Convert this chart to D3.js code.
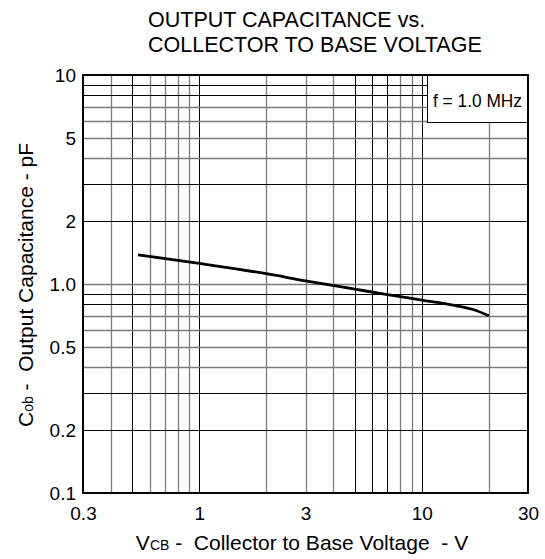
<!DOCTYPE html>
<html>
<head>
<meta charset="utf-8">
<script src="https://cdn.jsdelivr.net/npm/d3@7"></script>
<style>
  body { margin: 0; background: #fff; }
  text { font-family: "Liberation Sans", Arial, sans-serif; fill: #000; white-space: pre; }
</style>
</head>
<body>
<svg id="chart" width="545" height="559"></svg>
<script>
// curve
const vcb = [0.53, 1, 2, 3, 5, 7, 10, 14, 17, 20];
const cob = [1.38, 1.255, 1.12, 1.035, 0.945, 0.89, 0.838, 0.79, 0.755, 0.705];

const xTicks = [0.3, 1, 3, 10, 30];
const xTickLabels = ['0.3', '1', '3', '10', '30'];
const yTicks = [0.1, 0.2, 0.5, 1, 2, 5, 10];
const yTickLabels = ['0.1', '0.2', '0.5', '1.0', '2', '5', '10'];

const xGrid = [0.4, 0.5, 0.6, 0.7, 0.8, 0.9, 1, 2, 3, 4, 5, 6, 7, 8, 9, 10, 20];
const xGridDark = [0.5, 1, 5, 6, 7, 10];
const yGrid = [0.2, 0.3, 0.4, 0.5, 0.6, 0.7, 0.8, 0.9, 1, 2, 3, 4, 5, 6, 7, 8, 9];
const yGridDark = [0.2, 0.3, 0.8, 0.9, 2, 3, 8, 9];

const svg = d3.select('#chart');
const plotLeft = 83, plotRight = 528, plotTop = 75, plotBottom = 493;

const x = d3.scaleLog().domain([0.3, 30]).range([plotLeft, plotRight]);
const y = d3.scaleLog().domain([0.1, 10]).range([plotBottom, plotTop]);

const px = v => Math.round(v) + 0.5;

// grid
svg.append('g')
    .selectAll('line')
    .data(xGrid)
    .enter()
    .append('line')
    .attr('x1', d => px(x(d)))
    .attr('x2', d => px(x(d)))
    .attr('y1', plotTop)
    .attr('y2', plotBottom)
    .attr('stroke', d => xGridDark.includes(d) ? '#000' : '#7a7a7a')
    .attr('stroke-width', d => xGridDark.includes(d) ? 1 : 1.3);

svg.append('g')
    .selectAll('line')
    .data(yGrid)
    .enter()
    .append('line')
    .attr('x1', plotLeft)
    .attr('x2', plotRight)
    .attr('y1', d => px(y(d)))
    .attr('y2', d => px(y(d)))
    .attr('stroke', d => yGridDark.includes(d) ? '#000' : '#7a7a7a')
    .attr('stroke-width', d => yGridDark.includes(d) ? 1 : 1.3);

// legend box
const boxLeft = 427, boxBottom = 122;
svg.append('rect')
    .attr('x', boxLeft + 0.5)
    .attr('y', plotTop)
    .attr('width', plotRight - boxLeft)
    .attr('height', boxBottom - plotTop + 0.5)
    .attr('fill', '#fff')
    .attr('stroke', '#000')
    .attr('stroke-width', 1);

svg.append('text')
    .attr('x', 433)
    .attr('y', 107)
    .attr('textLength', 89)
    .attr('lengthAdjust', 'spacingAndGlyphs')
    .style('font-size', '19px')
    .text('f = 1.0 MHz');

// curve
const line = d3.line()
    .x(d => x(d[0]))
    .y(d => y(d[1]))
    .curve(d3.curveMonotoneX);

svg.append('path')
    .datum(vcb.map((v, i) => [v, cob[i]]))
    .attr('d', line)
    .attr('fill', 'none')
    .attr('stroke', '#000')
    .attr('stroke-width', 2.8);

// frame
svg.append('rect')
    .attr('x', plotLeft)
    .attr('y', plotTop)
    .attr('width', plotRight - plotLeft)
    .attr('height', plotBottom - plotTop)
    .attr('fill', 'none')
    .attr('stroke', '#000')
    .attr('stroke-width', 2);

// axes
const xAxis = svg.append('g')
    .attr('transform', `translate(0,${plotBottom})`)
    .call(d3.axisBottom(x)
        .tickValues(xTicks)
        .tickFormat((d, i) => xTickLabels[i])
        .tickSize(0)
        .tickPadding(14));
xAxis.select('.domain').remove();
xAxis.selectAll('text')
    .style('font-size', '19px')
    .style('font-family', '"Liberation Sans", Arial, sans-serif');

const yAxis = svg.append('g')
    .attr('transform', `translate(${plotLeft},0)`)
    .call(d3.axisLeft(y)
        .tickValues(yTicks)
        .tickFormat((d, i) => yTickLabels[i])
        .tickSize(0)
        .tickPadding(7));
yAxis.select('.domain').remove();
yAxis.selectAll('text')
    .style('font-size', '19px')
    .style('font-family', '"Liberation Sans", Arial, sans-serif');

// title
const title = svg.append('text')
    .style('font-size', '21.5px');
title.append('tspan').attr('x', 148).attr('y', 27).text('OUTPUT CAPACITANCE vs.');
title.append('tspan').attr('x', 148).attr('y', 52).text('COLLECTOR TO BASE VOLTAGE');

// axis titles
const xLabel = svg.append('text')
    .attr('x', 302)
    .attr('y', 550)
    .attr('text-anchor', 'middle')
    .style('font-size', '21px');
xLabel.append('tspan').text('V');
xLabel.append('tspan').style('font-size', '14px').text('CB');
xLabel.append('tspan').text(' -  Collector to Base Voltage  - V');

const yLabel = svg.append('text')
    .attr('transform', `translate(33,${(plotTop + plotBottom) / 2 + 1}) rotate(-90)`)
    .attr('text-anchor', 'middle')
    .style('font-size', '21px');
yLabel.append('tspan').text('C');
yLabel.append('tspan').style('font-size', '14px').text('ob');
yLabel.append('tspan').text(' -  Output Capacitance - pF');
</script>
</body>
</html>
